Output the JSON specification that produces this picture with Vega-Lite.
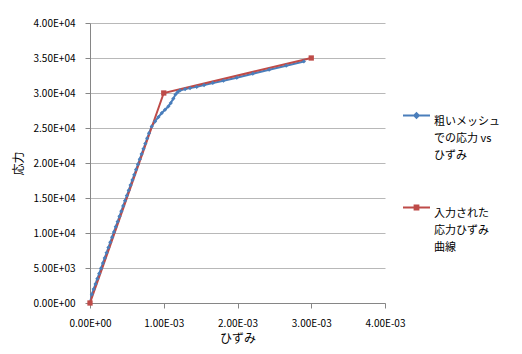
{
  "$schema": "https://vega.github.io/schema/vega-lite/v6.json",
  "width": 295,
  "height": 280,
  "autosize": "none",
  "padding": {"left": 90, "top": 23, "right": 137, "bottom": 51},
  "background": "white",
  "config": {
    "font": "Noto Sans CJK JP",
    "view": {"stroke": null},
    "axis": {"labelFont": "Noto Sans CJK JP", "titleFont": "Noto Sans CJK JP", "labelColor": "#000000", "titleColor": "#000000", "titleFontWeight": "normal"}
  },
  "data": {
    "values": [
      {"series": "粗いメッシュでの応力 vs ひずみ", "strain": 0.0, "stress": 0},
      {"series": "粗いメッシュでの応力 vs ひずみ", "strain": 0.000025, "stress": 1240},
      {"series": "粗いメッシュでの応力 vs ひずみ", "strain": 0.00005, "stress": 1990},
      {"series": "粗いメッシュでの応力 vs ひずみ", "strain": 0.000075, "stress": 2730},
      {"series": "粗いメッシュでの応力 vs ひずみ", "strain": 0.0001, "stress": 3470},
      {"series": "粗いメッシュでの応力 vs ひずみ", "strain": 0.000125, "stress": 4210},
      {"series": "粗いメッシュでの応力 vs ひずみ", "strain": 0.00015, "stress": 4960},
      {"series": "粗いメッシュでの応力 vs ひずみ", "strain": 0.000175, "stress": 5700},
      {"series": "粗いメッシュでの応力 vs ひずみ", "strain": 0.0002, "stress": 6440},
      {"series": "粗いメッシュでの応力 vs ひずみ", "strain": 0.000225, "stress": 7180},
      {"series": "粗いメッシュでの応力 vs ひずみ", "strain": 0.00025, "stress": 7930},
      {"series": "粗いメッシュでの応力 vs ひずみ", "strain": 0.000275, "stress": 8670},
      {"series": "粗いメッシュでの応力 vs ひずみ", "strain": 0.0003, "stress": 9410},
      {"series": "粗いメッシュでの応力 vs ひずみ", "strain": 0.000325, "stress": 10150},
      {"series": "粗いメッシュでの応力 vs ひずみ", "strain": 0.00035, "stress": 10900},
      {"series": "粗いメッシュでの応力 vs ひずみ", "strain": 0.000375, "stress": 11640},
      {"series": "粗いメッシュでの応力 vs ひずみ", "strain": 0.0004, "stress": 12380},
      {"series": "粗いメッシュでの応力 vs ひずみ", "strain": 0.000425, "stress": 13120},
      {"series": "粗いメッシュでの応力 vs ひずみ", "strain": 0.00045, "stress": 13870},
      {"series": "粗いメッシュでの応力 vs ひずみ", "strain": 0.000475, "stress": 14610},
      {"series": "粗いメッシュでの応力 vs ひずみ", "strain": 0.0005, "stress": 15350},
      {"series": "粗いメッシュでの応力 vs ひずみ", "strain": 0.000525, "stress": 16090},
      {"series": "粗いメッシュでの応力 vs ひずみ", "strain": 0.00055, "stress": 16840},
      {"series": "粗いメッシュでの応力 vs ひずみ", "strain": 0.000575, "stress": 17580},
      {"series": "粗いメッシュでの応力 vs ひずみ", "strain": 0.0006, "stress": 18320},
      {"series": "粗いメッシュでの応力 vs ひずみ", "strain": 0.000625, "stress": 19060},
      {"series": "粗いメッシュでの応力 vs ひずみ", "strain": 0.00065, "stress": 19810},
      {"series": "粗いメッシュでの応力 vs ひずみ", "strain": 0.000675, "stress": 20550},
      {"series": "粗いメッシュでの応力 vs ひずみ", "strain": 0.0007, "stress": 21290},
      {"series": "粗いメッシュでの応力 vs ひずみ", "strain": 0.000725, "stress": 22030},
      {"series": "粗いメッシュでの応力 vs ひずみ", "strain": 0.00075, "stress": 22780},
      {"series": "粗いメッシュでの応力 vs ひずみ", "strain": 0.000775, "stress": 23520},
      {"series": "粗いメッシュでの応力 vs ひずみ", "strain": 0.0008, "stress": 24260},
      {"series": "粗いメッシュでの応力 vs ひずみ", "strain": 0.000837, "stress": 25230},
      {"series": "粗いメッシュでの応力 vs ひずみ", "strain": 0.000882, "stress": 25940},
      {"series": "粗いメッシュでの応力 vs ひずみ", "strain": 0.000927, "stress": 26570},
      {"series": "粗いメッシュでの応力 vs ひずみ", "strain": 0.000973, "stress": 27140},
      {"series": "粗いメッシュでの応力 vs ひずみ", "strain": 0.001018, "stress": 27610},
      {"series": "粗いメッシュでの応力 vs ひずみ", "strain": 0.001063, "stress": 28090},
      {"series": "粗いメッシュでの応力 vs ひずみ", "strain": 0.001095, "stress": 28570},
      {"series": "粗いメッシュでの応力 vs ひずみ", "strain": 0.00113, "stress": 29200},
      {"series": "粗いメッシュでの応力 vs ひずみ", "strain": 0.00116, "stress": 29800},
      {"series": "粗いメッシュでの応力 vs ひずみ", "strain": 0.00119, "stress": 30140},
      {"series": "粗いメッシュでの応力 vs ひずみ", "strain": 0.00122, "stress": 30370},
      {"series": "粗いメッシュでの応力 vs ひずみ", "strain": 0.00129, "stress": 30560},
      {"series": "粗いメッシュでの応力 vs ひずみ", "strain": 0.001357, "stress": 30710},
      {"series": "粗いメッシュでの応力 vs ひずみ", "strain": 0.001447, "stress": 30880},
      {"series": "粗いメッシュでの応力 vs ひずみ", "strain": 0.001547, "stress": 31140},
      {"series": "粗いメッシュでの応力 vs ひずみ", "strain": 0.001665, "stress": 31430},
      {"series": "粗いメッシュでの応力 vs ひずみ", "strain": 0.001809, "stress": 31760},
      {"series": "粗いメッシュでの応力 vs ひずみ", "strain": 0.00199, "stress": 32190},
      {"series": "粗いメッシュでの応力 vs ひずみ", "strain": 0.002207, "stress": 32760},
      {"series": "粗いメッシュでの応力 vs ひずみ", "strain": 0.002429, "stress": 33330},
      {"series": "粗いメッシュでの応力 vs ひずみ", "strain": 0.00266, "stress": 33900},
      {"series": "粗いメッシュでの応力 vs ひずみ", "strain": 0.0029, "stress": 34510},
      {"series": "入力された応力ひずみ曲線", "strain": 0.0, "stress": 0},
      {"series": "入力された応力ひずみ曲線", "strain": 0.001, "stress": 30000},
      {"series": "入力された応力ひずみ曲線", "strain": 0.003, "stress": 35000}
    ]
  },
  "encoding": {
    "x": {
      "field": "strain", "type": "quantitative",
      "scale": {"domain": [0, 0.004], "nice": false, "zero": false},
      "axis": {
        "title": "ひずみ", "titleFontSize": 12, "titlePadding": 5,
        "values": [0, 0.001, 0.002, 0.003, 0.004],
        "labelExpr": "replace(replace(format(datum.value, '.2e'), 'e-', 'E-0'), 'e+', 'E+0')",
        "labelFontSize": 10, "labelPadding": 10, "tickSize": 5, "labelFlush": false, "labelOverlap": false,
        "tickColor": "#868686", "domainColor": "#868686", "grid": false
      }
    },
    "y": {
      "field": "stress", "type": "quantitative",
      "scale": {"domain": [0, 40000], "nice": false},
      "axis": {
        "title": "応力", "titleFontSize": 12, "titlePadding": 8,
        "values": [0, 5000, 10000, 15000, 20000, 25000, 30000, 35000, 40000],
        "labelExpr": "replace(replace(format(datum.value, '.2e'), 'e-', 'E-0'), 'e+', 'E+0')",
        "labelFontSize": 10, "labelPadding": 10, "tickSize": 5, "labelFlush": false,
        "tickColor": "#868686", "domainColor": "#868686",
        "grid": true, "gridColor": "#b8b8b8", "gridWidth": 1
      }
    },
    "color": {
      "field": "series", "type": "nominal",
      "scale": {"domain": ["粗いメッシュでの応力 vs ひずみ", "入力された応力ひずみ曲線"], "range": ["#4a7ebb", "#be4b48"]},
      "legend": {
        "title": null, "orient": "none", "legendX": 312, "legendY": 78,
        "symbolSize": 729, "symbolStrokeWidth": 2,
        "labelFontSize": 11, "labelFont": "Noto Sans CJK JP", "labelColor": "#000000",
        "labelBaseline": "top", "labelOffset": 3, "labelLimit": 200,
        "rowPadding": 32,
        "labelExpr": "datum.label == '入力された応力ひずみ曲線' ? ['入力された', '応力ひずみ', '曲線'] : ['粗いメッシュ', 'での応力 vs', 'ひずみ']",
        "encode": {
          "labels": {"update": {"lineHeight": {"value": 17}}},
          "symbols": {
            "update": {
              "shape": {"signal": "datum.value == '入力された応力ひずみ曲線' ? 'M-1,0H1M-0.14,-0.14H0.14V0.14H-0.14Z' : 'M-1,0H1M0,-0.17L0.17,0L0,0.17L-0.17,0Z'"},
              "fill": {"signal": "datum.value == '入力された応力ひずみ曲線' ? '#be4b48' : '#4a7ebb'"},
              "stroke": {"signal": "datum.value == '入力された応力ひずみ曲線' ? '#be4b48' : '#4a7ebb'"},
              "fillOpacity": {"value": 1},
              "strokeWidth": {"value": 2},
              "size": {"value": 729}
            }
          }
        }
      }
    }
  },
  "layer": [
    {
      "mark": {"type": "line", "strokeWidth": 2},
      "encoding": {"order": {"field": "strain", "type": "quantitative"}}
    },
    {
      "transform": [{"filter": "datum.series == '粗いメッシュでの応力 vs ひずみ'"}],
      "mark": {"type": "point", "filled": true, "opacity": 1, "shape": "diamond", "size": 18}
    },
    {
      "transform": [{"filter": "datum.series == '入力された応力ひずみ曲線'"}],
      "mark": {"type": "point", "filled": true, "opacity": 1, "shape": "square", "size": 28}
    }
  ]
}
